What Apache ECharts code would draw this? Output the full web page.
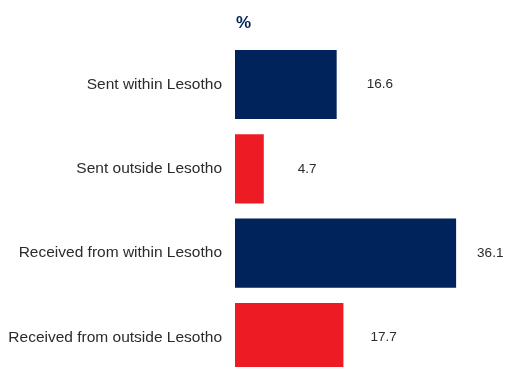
<!DOCTYPE html>
<html>
<head>
<meta charset="utf-8">
<script src="https://cdn.jsdelivr.net/npm/echarts@6/dist/echarts.min.js"></script>
<style>
  html, body { margin: 0; padding: 0; background: #ffffff; }
  #chart { width: 506px; height: 367px; }
</style>
</head>
<body>
<div id="chart"></div>
<script>
// Remittance flows, share of households (%)
const categories = [
  'Sent within Lesotho',
  'Sent outside Lesotho',
  'Received from within Lesotho',
  'Received from outside Lesotho'
];
const values = [16.6, 4.7, 36.1, 17.7];
const unitLabel = '%';

const NAVY = '#00235b';
const RED = '#ed1c24';
const barColors = [NAVY, RED, NAVY, RED];
// space between each bar end and its value label
const labelGaps = [30, 34, 21, 27];

const chart = echarts.init(document.getElementById('chart'), null, { renderer: 'canvas' });

chart.setOption({
  animation: false,
  backgroundColor: '#ffffff',
  title: {
    text: unitLabel,
    left: 231,
    top: 10,
    textStyle: { color: NAVY, fontFamily: 'Liberation Sans', fontWeight: 'bold', fontSize: 17 }
  },
  grid: {
    left: 235, right: 26, top: 42.3, bottom: -12.7,
    containLabel: false,
    outerBoundsMode: 'none'
  },
  xAxis: {
    type: 'value',
    min: 0,
    max: 40,
    show: false
  },
  yAxis: {
    type: 'category',
    data: categories,
    inverse: true,
    axisLine: { show: false },
    axisTick: { show: false },
    splitLine: { show: false },
    axisLabel: {
      margin: 13,
      color: '#2b2b2b',
      fontFamily: 'Liberation Sans',
      fontSize: 15.5
    }
  },
  series: [{
    type: 'bar',
    barCategoryGap: '18%',
    data: values.map((v, i) => ({
      value: v,
      itemStyle: { color: barColors[i] },
      label: { distance: labelGaps[i] }
    })),
    label: {
      show: true,
      position: 'right',
      color: '#2b2b2b',
      fontFamily: 'Liberation Sans',
      fontSize: 13.5,
      formatter: p => p.value.toFixed(1)
    }
  }]
});
</script>
</body>
</html>
